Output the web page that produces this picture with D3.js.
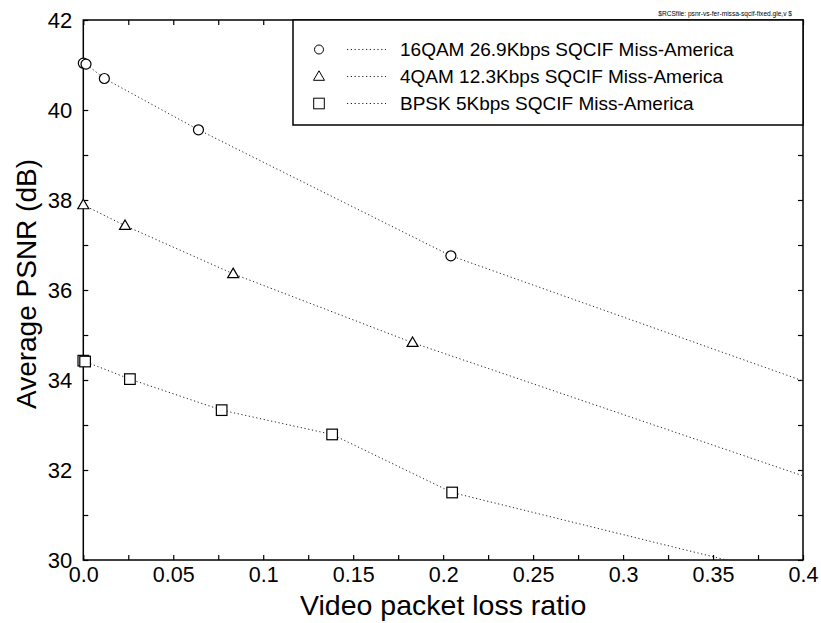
<!DOCTYPE html>
<html>
<head>
<meta charset="utf-8">
<script src="https://cdn.jsdelivr.net/npm/d3@7"></script>
<style>
  html, body { margin: 0; padding: 0; background: #fff; }
  svg { display: block; font-family: "Liberation Sans", Arial, Helvetica, sans-serif; }
</style>
</head>
<body>
<svg id="chart" width="821" height="623"></svg>
<script>
// ---------- data ----------
const seriesNames = [
  "16QAM 26.9Kbps SQCIF Miss-America",
  "4QAM 12.3Kbps SQCIF Miss-America",
  "BPSK 5Kbps SQCIF Miss-America"
];
const markerTypes = ["circle", "triangle", "square"];

const qam16X = [0, 0.0015, 0.0117, 0.064, 0.2043];
const qam16Y = [41.04, 41.02, 40.70, 39.56, 36.76];

const qam4X = [0, 0.0232, 0.0833, 0.183];
const qam4Y = [37.89, 37.43, 36.36, 34.83];

const bpskX = [0, 0.001, 0.0259, 0.0769, 0.1383, 0.205];
const bpskY = [34.43, 34.41, 34.02, 33.33, 32.79, 31.50];

// dotted trend continues to the right edge (no marker there)
const lineEndX = [0.4, 0.4, 0.4];
const lineEndY = [33.98, 31.87, 29.58];

const xTickLabels = ["0.0", "0.05", "0.1", "0.15", "0.2", "0.25", "0.3", "0.35", "0.4"];
const xTickValues = [0, 0.05, 0.1, 0.15, 0.2, 0.25, 0.3, 0.35, 0.4];
const yTickValues = [30, 32, 34, 36, 38, 40, 42];

const xTitle = "Video packet loss ratio";
const yTitle = "Average PSNR (dB)";
const rcsText = "$RCSfile: psnr-vs-fer-missa-sqcif-fixed.gle,v $";

// ---------- layout ----------
const svg = d3.select("#chart");
const L = 83.3, R = 803, T = 20, B = 560;
const x = d3.scaleLinear().domain([0, 0.4]).range([L, R]);
const y = d3.scaleLinear().domain([30, 42]).range([B, T]);

const allSeries = [
  { xs: qam16X, ys: qam16Y },
  { xs: qam4X, ys: qam4Y },
  { xs: bpskX, ys: bpskY }
].map((s, i) => ({
  name: seriesNames[i],
  marker: markerTypes[i],
  pts: s.xs.map((v, j) => [v, s.ys[j]]),
  end: [lineEndX[i], lineEndY[i]]
}));

svg.append("defs").append("clipPath").attr("id", "plotclip")
  .append("rect").attr("x", L).attr("y", T).attr("width", R - L).attr("height", B - T);

// ---------- axes (ticks inward on all four sides) ----------
const axisColor = "#000";
const minorX = d3.range(0, 0.4001, 0.025);
const minorY = d3.range(30, 42.001, 1);

const axes = svg.append("g");
// bottom
axes.append("g").attr("transform", `translate(0,${B})`)
  .call(d3.axisBottom(x).tickValues(minorX).tickSize(-5).tickFormat(""))
  .call(g => g.select(".domain").remove());
axes.append("g").attr("transform", `translate(0,${B})`)
  .call(d3.axisBottom(x).tickValues(xTickValues).tickSize(0).tickPadding(7)
    .tickFormat((d, i) => xTickLabels[i]))
  .call(g => g.select(".domain").remove())
  .call(g => g.selectAll("text").attr("font-size", 21.5).attr("fill", "#000")
    .attr("font-family", "Liberation Sans, Arial, sans-serif"));
// top
axes.append("g").attr("transform", `translate(0,${T})`)
  .call(d3.axisTop(x).tickValues(minorX).tickSize(-5).tickFormat(""))
  .call(g => g.select(".domain").remove());
// left
axes.append("g").attr("transform", `translate(${L},0)`)
  .call(d3.axisLeft(y).tickValues(minorY).tickSize(-5).tickFormat(""))
  .call(g => g.select(".domain").remove());
axes.append("g").attr("transform", `translate(${L},0)`)
  .call(d3.axisLeft(y).tickValues(yTickValues).tickSize(0).tickPadding(11)
    .tickFormat(d3.format("d")))
  .call(g => g.select(".domain").remove())
  .call(g => g.selectAll("text").attr("font-size", 22).attr("fill", "#000")
    .attr("font-family", "Liberation Sans, Arial, sans-serif"));
// right
axes.append("g").attr("transform", `translate(${R},0)`)
  .call(d3.axisRight(y).tickValues(minorY).tickSize(-5).tickFormat(""))
  .call(g => g.select(".domain").remove());
axes.selectAll(".tick line").attr("stroke", axisColor).attr("stroke-width", 1.2);

// frame
svg.append("rect").attr("x", L).attr("y", T).attr("width", R - L).attr("height", B - T)
  .attr("fill", "none").attr("stroke", "#000").attr("stroke-width", 1.5);

// ---------- lines ----------
const line = d3.line().x(d => x(d[0])).y(d => y(d[1]));
const plot = svg.append("g").attr("clip-path", "url(#plotclip)");
plot.selectAll("path.series").data(allSeries).join("path")
  .attr("class", "series")
  .attr("d", s => line(s.pts.concat([s.end])))
  .attr("fill", "none").attr("stroke", "#222").attr("stroke-width", 1)
  .attr("stroke-dasharray", "1.2,2.6");

// ---------- markers ----------
function drawMarker(g, type, cx, cy) {
  if (type === "circle") {
    g.append("circle").attr("cx", cx).attr("cy", cy).attr("r", 5);
  } else if (type === "triangle") {
    const h = 9.5, w = 11;
    g.append("path").attr("d",
      `M${cx},${cy - h * 0.6}L${cx + w / 2},${cy + h * 0.4}L${cx - w / 2},${cy + h * 0.4}Z`);
  } else {
    g.append("rect").attr("x", cx - 5.3).attr("y", cy - 5.3).attr("width", 10.6).attr("height", 10.6);
  }
}
const mk = svg.append("g").attr("fill", "#fff").attr("stroke", "#000").attr("stroke-width", 1.2);
allSeries.forEach(s => {
  s.pts.forEach(p => drawMarker(mk, s.marker, x(p[0]), y(p[1])));
});

// ---------- legend ----------
const lg = svg.append("g");
lg.append("rect").attr("x", 293).attr("y", T).attr("width", R - 293).attr("height", 105)
  .attr("fill", "#fff").attr("stroke", "#000").attr("stroke-width", 1.5);
const rowY = [49.5, 76.5, 103.5];
allSeries.forEach((s, i) => {
  const ry = rowY[i];
  const g = lg.append("g").attr("fill", "#fff").attr("stroke", "#000").attr("stroke-width", 1);
  drawMarker(g, s.marker, 319, ry);
  g.select("circle").attr("r", 4.5);
  lg.append("line").attr("x1", 347).attr("x2", 386).attr("y1", ry).attr("y2", ry)
    .attr("stroke", "#222").attr("stroke-width", 1).attr("stroke-dasharray", "1.2,2.6");
  lg.append("text").attr("x", 400).attr("y", ry).attr("dy", "0.36em")
    .attr("font-size", 19).attr("fill", "#000").text(s.name);
});

// ---------- titles ----------
svg.append("text").attr("x", (L + R) / 2).attr("y", 615).attr("text-anchor", "middle")
  .attr("font-size", 28.5).attr("fill", "#000").text(xTitle);
svg.append("text").attr("transform", `translate(36,284) rotate(-90)`)
  .attr("text-anchor", "middle").attr("font-size", 28).attr("fill", "#000").text(yTitle);
svg.append("text").attr("x", 792).attr("y", 16).attr("text-anchor", "end")
  .attr("font-size", 6.6).attr("fill", "#000").text(rcsText);
</script>
</body>
</html>
